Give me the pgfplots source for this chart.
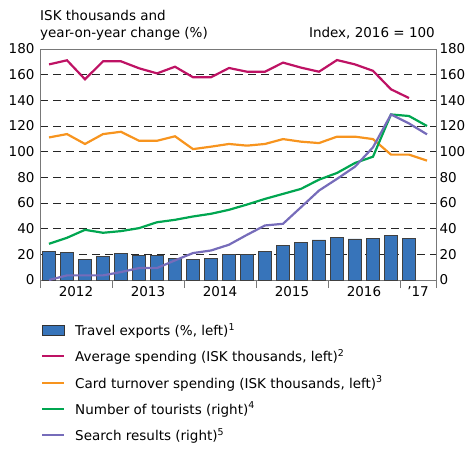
\documentclass[border=0pt]{standalone}
\usepackage{pgfplots}
\pgfplotsset{compat=1.18}
\usepackage{fontspec}
\setmainfont{DejaVu Sans}
\definecolor{barblue}{RGB}{55,116,186}
\definecolor{cmag}{RGB}{190,18,100}
\definecolor{corange}{RGB}{247,148,30}
\definecolor{cgreen}{RGB}{0,166,80}
\definecolor{cpurple}{RGB}{118,108,186}
\definecolor{axgray}{RGB}{120,120,120}
\begin{document}
\begin{tikzpicture}[font=\fontsize{13.5}{16}\selectfont]
\path[use as bounding box] (0pt,0pt) rectangle (472pt,-450pt);
\node[anchor=base west,inner sep=0] at (40pt,-20pt) {ISK thousands and};
\node[anchor=base west,inner sep=0] at (40pt,-37pt) {year-on-year change (\%)};
\node[anchor=base east,inner sep=0] at (435pt,-37pt) {Index, 2016 = 100};
\begin{axis}[
  at={(40pt,-280pt)}, anchor=south west,
  scale only axis, width=396pt, height=231pt,
  xmin=-0.5, xmax=21.5, ymin=0, ymax=180,
  axis line style={axgray, line width=0.8pt},
  ytick={0,20,...,180}, ytick pos=left, yticklabel pos=left,
  y tick style={draw=none},
  major tick length=8pt,
  xtick={-0.5,3.5,7.5,11.5,15.5,19.5,21.5}, xticklabels={},
  xtick pos=bottom,
  x tick style={axgray, line width=0.8pt},
  tick align=outside,
  extra x ticks={1.5,5.5,9.5,13.5,17.5,20.5},
  extra x tick labels={2012,2013,2014,2015,2016,’17},
  extra x tick style={x tick style={draw=none}, xticklabel style={yshift=5pt}},
  ymajorgrids,
  y grid style={black!85, dash pattern=on 8pt off 5pt, line width=0.8pt},
  /pgf/number format/assume math mode=true,
  yticklabel style={xshift=6pt},
  legend style={at={(axis description cs:-0.005,-0.17)}, anchor=north west,
    draw=none, fill=none, row sep=8.5pt, font=\fontsize{13.5}{16}\selectfont},
  legend cell align=left,
]
\addplot[ybar, bar width=0.75, fill=barblue, draw=black!75, line width=0.6pt,
  legend image code/.code={\draw[fill=barblue,draw=black!80,line width=0.6pt] (0pt,-5pt) rectangle (22pt,5pt);}]
  table {
x y
0 22.5
1 21.2
2 16
3 18.4
4 20.7
5 19.2
6 19.2
7 17.1
8 16
9 16.8
10 19.9
11 20.2
12 22
13 26.7
14 29.3
15 31.3
16 32.9
17 32.1
18 32.4
19 35
20 32.4
};
\addlegendentry{\hspace{8pt}Travel exports (\%, left)\textsuperscript{1}}
\addplot[cmag, line width=2.2pt, mark=none,
  legend image code/.code={\draw[cmag,line width=2pt] (0pt,0pt) -- (22pt,0pt);}]
  table {
x y
0 168
1 171.2
2 156.4
3 170.4
4 170.4
5 165
6 161
7 166.2
8 158
9 158
10 165.2
11 162.3
12 162.3
13 169.4
14 165.5
15 162.3
16 171.4
17 168
18 163
19 148.6
20 141.8
};
\addlegendentry{\hspace{8pt}Average spending (ISK thousands, left)\textsuperscript{2}}
\addplot[corange, line width=2.2pt, mark=none,
  legend image code/.code={\draw[corange,line width=2pt] (0pt,0pt) -- (22pt,0pt);}]
  table {
x y
0 111.1
1 113.7
2 106
3 113.7
4 115.5
5 108.5
6 108.5
7 112
8 102
9 103.9
10 106
11 104.7
12 106
13 109.8
14 107.8
15 106.7
16 111.7
17 111.7
18 109.8
19 97.7
20 97.7
21 93
};
\addlegendentry{\hspace{8pt}Card turnover spending (ISK thousands, left)\textsuperscript{3}}
\addplot[cgreen, line width=2.2pt, mark=none,
  legend image code/.code={\draw[cgreen,line width=2pt] (0pt,0pt) -- (22pt,0pt);}]
  table {
x y
0 28.2
1 32.9
2 39.1
3 36.8
4 38.1
5 40.4
6 45
7 46.9
8 49.5
9 51.6
10 54.7
11 58.8
12 63.2
13 67.1
14 71
15 78.2
16 83.4
17 91.2
18 96.1
19 129
20 127.8
21 120
};
\addlegendentry{\hspace{8pt}Number of tourists (right)\textsuperscript{4}}
\addplot[cpurple, line width=2.2pt, mark=none,
  legend image code/.code={\draw[cpurple,line width=2pt] (0pt,0pt) -- (22pt,0pt);}]
  table {
x y
0 0
1 3.6
2 3.6
3 3.6
4 6.2
5 9.3
6 9.3
7 15.3
8 21
9 23
10 27.5
11 35.2
12 42.5
13 43.8
14 56.7
15 69.7
16 78.8
17 88.3
18 103.4
19 129
20 122
21 113.5
};
\addlegendentry{\hspace{8pt}Search results (right)\textsuperscript{5}}
\end{axis}
\begin{axis}[
  at={(40pt,-280pt)}, anchor=south west,
  scale only axis, width=396pt, height=231pt,
  xmin=-0.5, xmax=21.5, ymin=0, ymax=180,
  axis x line=none, axis y line*=right,
  axis line style={axgray, line width=0.8pt, -},
  ytick={0,20,...,180}, y tick style={draw=none},
  /pgf/number format/assume math mode=true,
]
\end{axis}
\end{tikzpicture}
\end{document}
